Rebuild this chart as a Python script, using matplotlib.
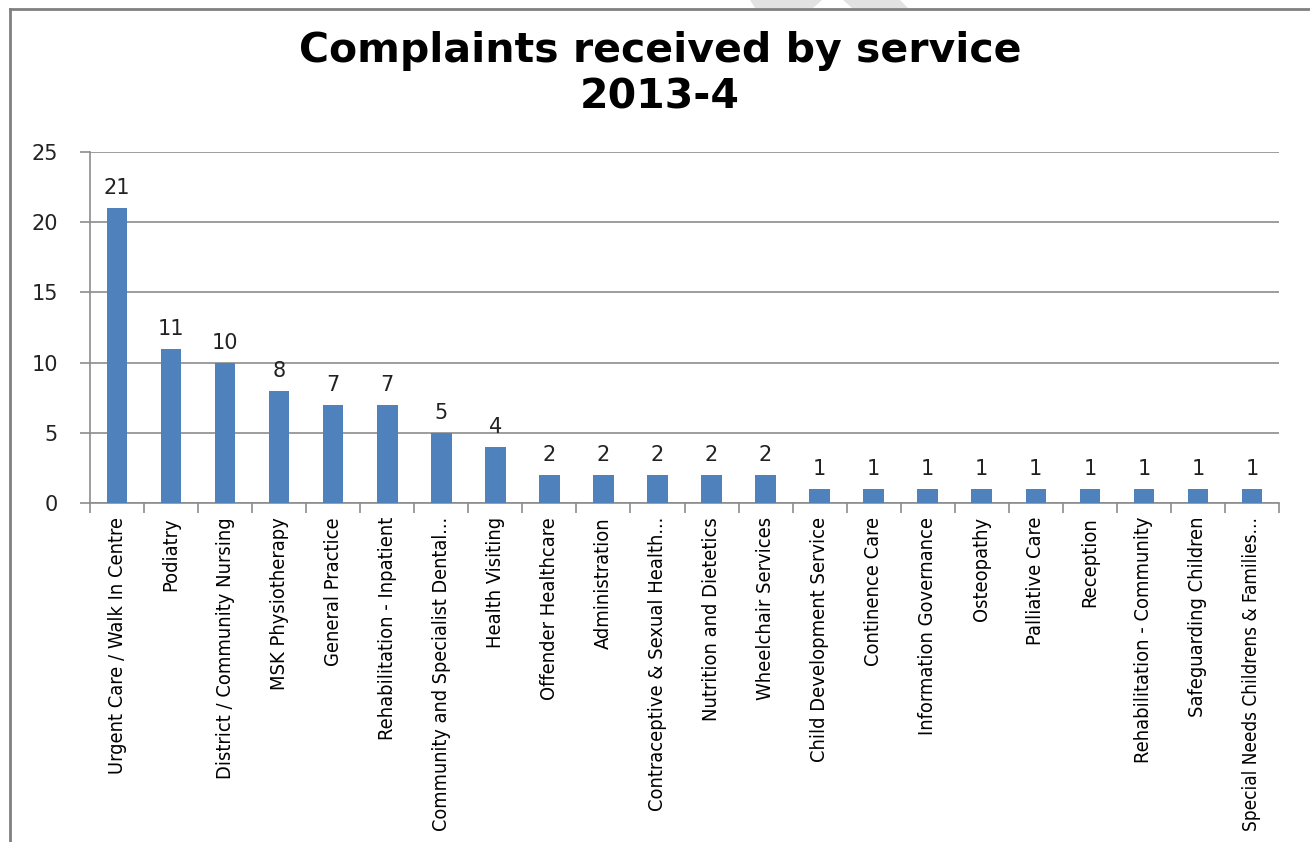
import numpy as np
import matplotlib.pyplot as plt
from matplotlib.lines import Line2D
from matplotlib.patches import Polygon

services = [
    'Urgent Care / Walk In Centre', 'Podiatry', 'District / Community Nursing',
    'MSK Physiotherapy', 'General Practice', 'Rehabilitation - Inpatient',
    'Community and Specialist Dental...', 'Health Visiting', 'Offender Healthcare',
    'Administration', 'Contraceptive & Sexual Health...', 'Nutrition and Dietetics',
    'Wheelchair Services', 'Child Development Service', 'Continence Care',
    'Information Governance', 'Osteopathy', 'Palliative Care', 'Reception',
    'Rehabilitation - Community', 'Safeguarding Children',
    'Special Needs Childrens & Families...',
]
complaints = [21, 11, 10, 8, 7, 7, 5, 4, 2, 2, 2, 2, 2, 1, 1, 1, 1, 1, 1, 1, 1, 1]
y_ticks = [0, 5, 10, 15, 20, 25]

W, H = 1310, 842
fig = plt.figure(figsize=(W / 100, H / 100), dpi=100)
ax = fig.add_axes([90 / W, 1 - 503 / H, (1279 - 90) / W, (503 - 152) / H])

x = np.arange(len(services))
bars = ax.bar(x, complaints, width=0.38, color='#4F81BD', zorder=3)

for b, v in zip(bars, complaints):
    ax.annotate(str(v), (b.get_x() + b.get_width() / 2, v), xytext=(0, 7),
                textcoords='offset points', ha='center', va='bottom',
                fontsize=15, color='#222222', family='DejaVu Sans')

ax.set_xlim(-0.5, len(services) - 0.5)
ax.set_ylim(0, 25)
ax.set_yticks(y_ticks)
ax.set_yticklabels([str(t) for t in y_ticks], fontsize=15, family='DejaVu Sans',
                   color='#222222')
ax.yaxis.grid(True, color='#8c8c8c', linewidth=1.2, zorder=0)
ax.tick_params(axis='y', length=7, width=1.2, color='#8c8c8c', pad=16)

ax.set_xticks(x)
ax.set_xticklabels(services, rotation=90, fontsize=14.4, family='DejaVu Sans',
                   fontstretch='condensed')
ax.set_xticks(np.arange(len(services) + 1) - 0.5, minor=True)
ax.tick_params(axis='x', which='major', length=0, pad=10)
ax.tick_params(axis='x', which='minor', length=7, width=1.2, color='#8c8c8c')

for side in ['top', 'right']:
    ax.spines[side].set_visible(False)
for side in ['left', 'bottom']:
    ax.spines[side].set_color('#8c8c8c')
    ax.spines[side].set_linewidth(1.2)

fig.text(0.504, 1 - 74 / H, 'Complaints received by service\n2013-4',
         ha='center', va='center', fontsize=29.5, fontweight='bold',
         linespacing=1.22, family='DejaVu Sans')

# chart frame (only top and left edges fall inside the image)
fig.add_artist(Line2D([10 / W, 10 / W], [0, 1 - 9 / H], color='#808080', lw=2))
fig.add_artist(Line2D([10 / W, 1], [1 - 9 / H, 1 - 9 / H], color='#808080', lw=2))

# faint shapes peeking in above the frame
for pts in ([(750, 0), (822, 0), (813, 8), (755, 8)],
            [(843, 0), (900, 0), (908, 8), (852, 8)]):
    fig.add_artist(Polygon([(px / W, 1 - py / H) for px, py in pts],
                           closed=True, color='#e2e2e2', lw=0, zorder=0))

# shrink any long category label so it stays inside the figure
fig.canvas.draw()
renderer = fig.canvas.get_renderer()
for lab in ax.get_xticklabels():
    bb = lab.get_window_extent(renderer)
    room = bb.y1 - 10
    if bb.height > room:
        lab.set_fontsize(lab.get_fontsize() * room / bb.height)

fig.savefig('out.png', dpi=100)
